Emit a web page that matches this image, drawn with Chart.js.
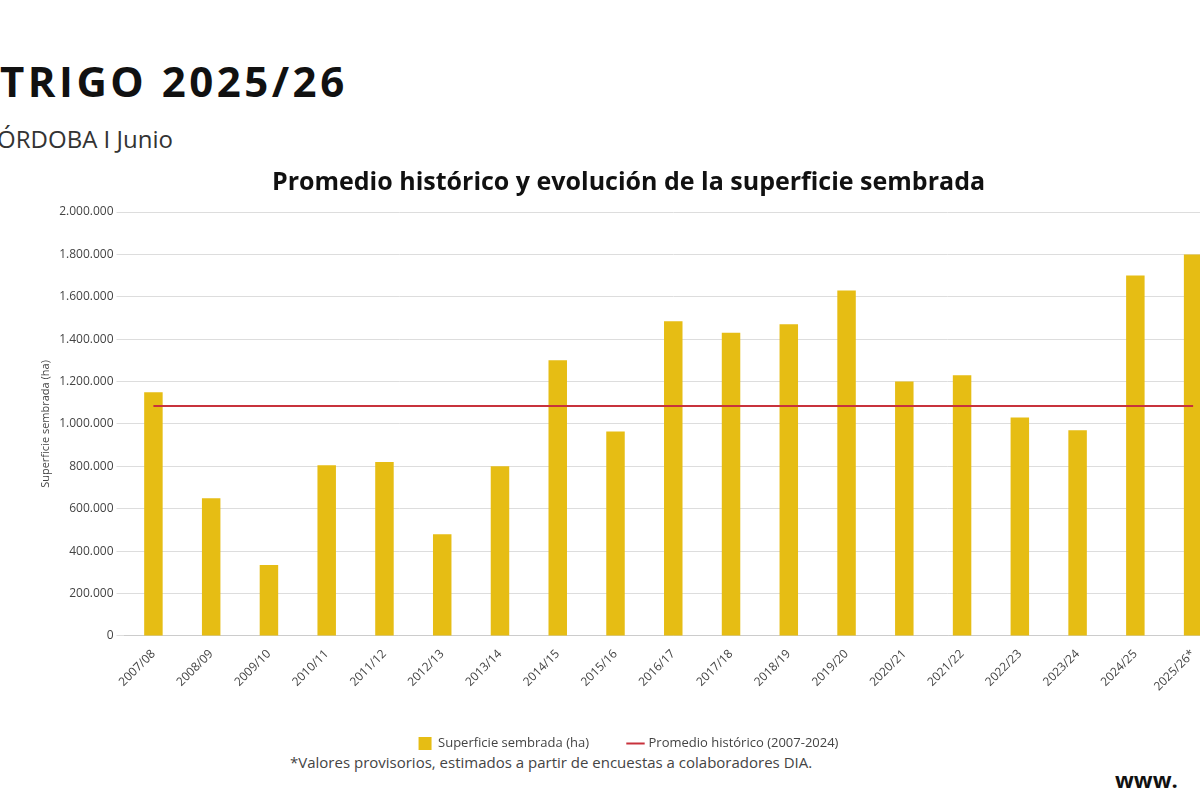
<!DOCTYPE html>
<html><head><meta charset="utf-8">
<script src="https://cdn.jsdelivr.net/npm/chart.js@4"></script>
<style>
body{margin:0;width:1200px;height:800px;overflow:hidden;background:#fff;font-family:"Open Sans",sans-serif;position:relative}
#wrap{position:absolute;left:0;top:0;width:1222px;height:800px}
.t{position:absolute;white-space:nowrap;color:#111}
</style></head><body>
<div class="t" style="left:0;top:52px;font-size:42px;font-weight:700;letter-spacing:3.5px">TRIGO 2025/26</div>
<div class="t" style="left:-18px;top:122px;font-size:24px;color:#333">CÓRDOBA I Junio</div>
<div class="t" style="left:290px;top:752px;font-size:15px;color:#444">*Valores provisorios, estimados a partir de encuestas a colaboradores DIA.</div>
<div class="t" style="left:1115px;top:764px;font-size:22px;font-weight:700">www.</div>
<div id="wrap"><canvas id="c"></canvas></div>
<script>
const categories=["2007/08","2008/09","2009/10","2010/11","2011/12","2012/13","2013/14","2014/15","2015/16","2016/17","2017/18","2018/19","2019/20","2020/21","2021/22","2022/23","2023/24","2024/25","2025/26*"];
const superficie=[1150000,650000,335000,805000,820000,480000,800000,1300000,965000,1485000,1430000,1470000,1630000,1200000,1230000,1030000,970000,1700000,1800000];
const promedio=categories.map(()=>1085000);
const fmt=v=>v.toLocaleString('de-DE');
new Chart(document.getElementById('c'),{
 data:{labels:categories,datasets:[
  {type:'line',label:'Promedio histórico (2007-2024)',data:promedio,borderColor:'#c8323c',borderWidth:2,pointRadius:0,pointStyle:'line',order:0},
  {type:'bar',label:'Superficie sembrada (ha)',data:superficie,backgroundColor:'#e6bd14',categoryPercentage:1,barPercentage:0.32,pointStyle:'rect',order:1}
 ]},
 options:{responsive:true,maintainAspectRatio:false,animation:false,
  layout:{padding:{top:168,bottom:40,left:35,right:0}},
  plugins:{
   title:{display:true,text:'Promedio histórico y evolución de la superficie sembrada',font:{family:'Open Sans',size:25,weight:'bold'},color:'#111',padding:{top:0,bottom:14}},
   legend:{position:'bottom',reverse:true,labels:{usePointStyle:true,font:{family:'Open Sans',size:13},color:'#444',padding:40,boxWidth:40}},
   tooltip:{enabled:false}},
  scales:{
   x:{grid:{display:false},border:{color:'#ccc'},ticks:{maxRotation:45,minRotation:45,font:{family:'Open Sans',size:12},color:'#444'}},
   y:{min:0,max:2000000,ticks:{stepSize:200000,callback:fmt,font:{family:'Open Sans',size:12},color:'#444'},grid:{color:'#ddd'},border:{display:false},
      title:{display:true,text:'Superficie sembrada (ha)',font:{family:'Open Sans',size:11},color:'#444'}}
  }}
});
</script></body></html>
